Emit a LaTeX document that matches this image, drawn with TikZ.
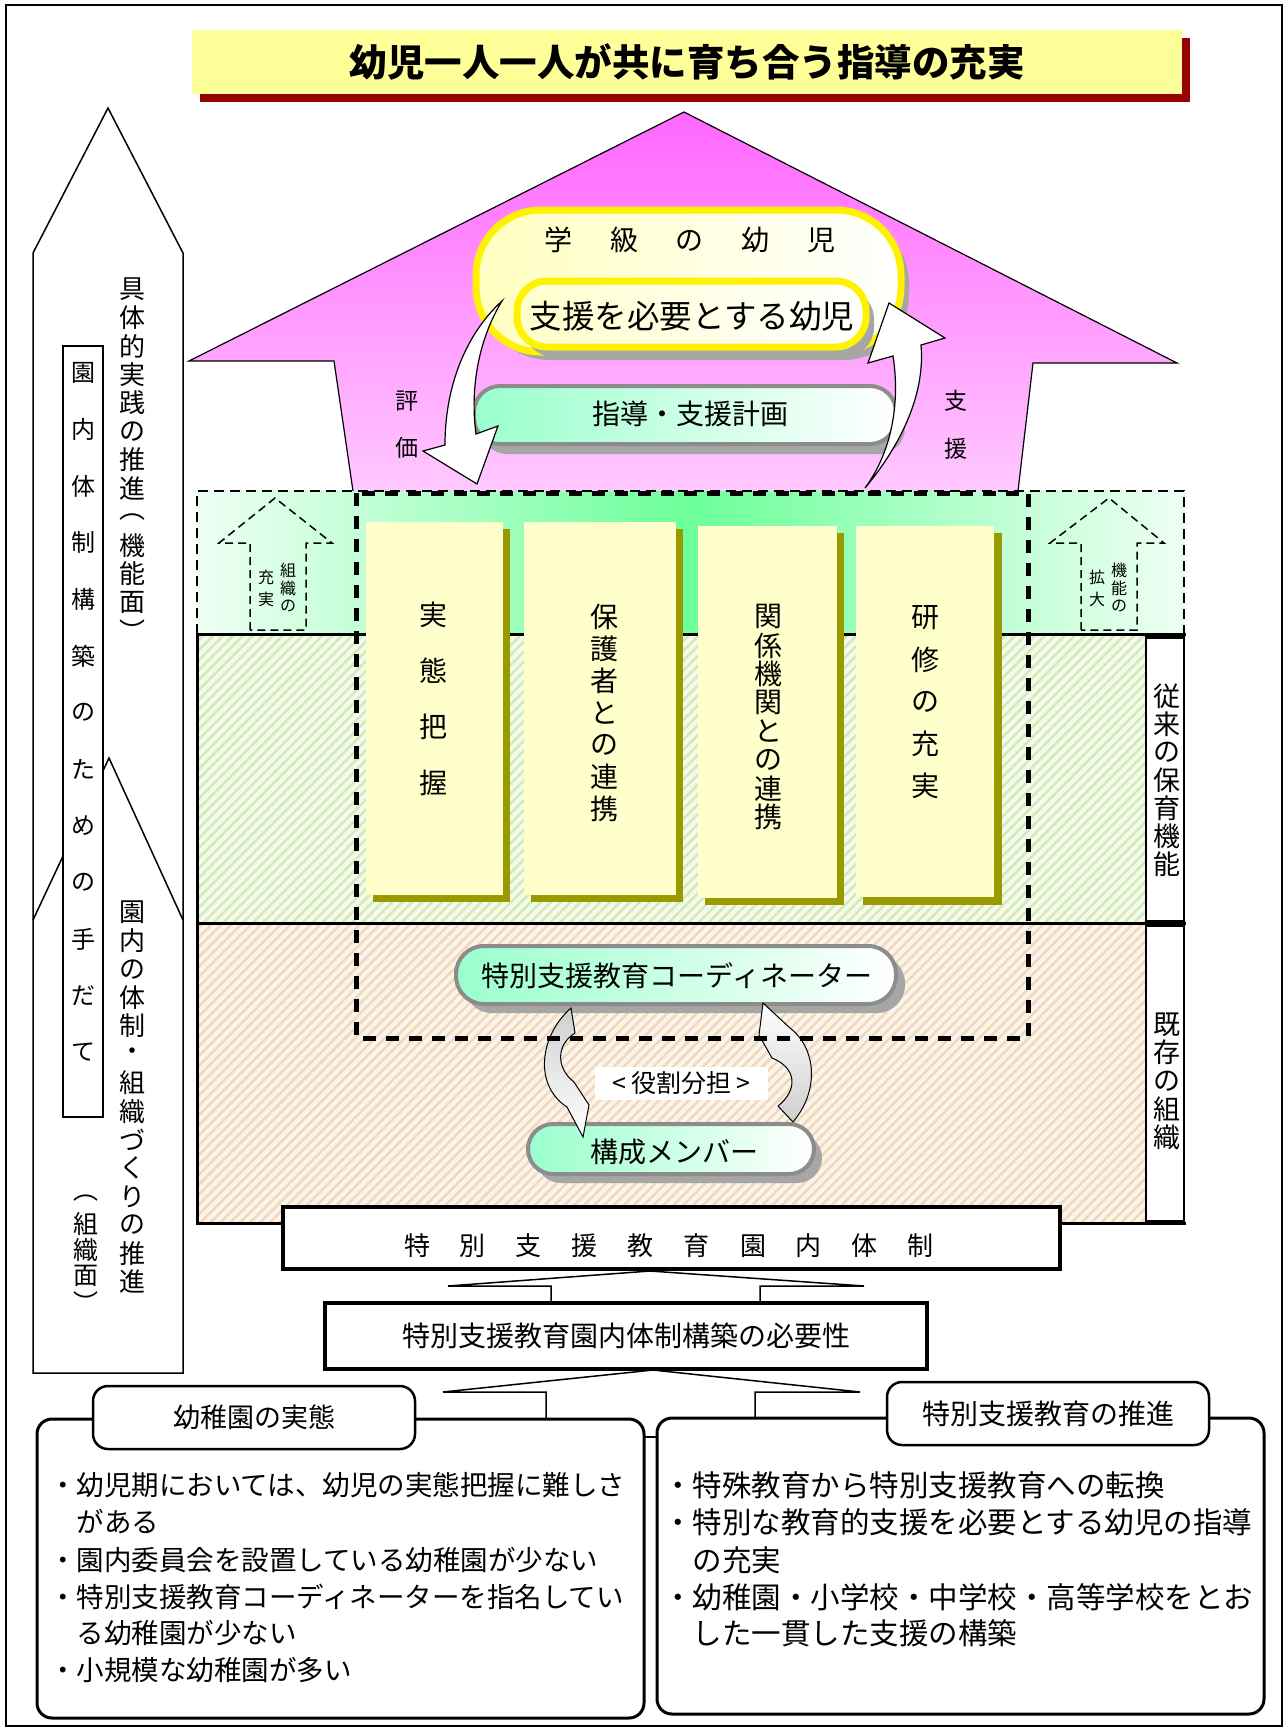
\documentclass[tikz,border=0pt]{standalone}
\usepackage{fontspec}
\setmainfont{Noto Sans CJK JP}
\usetikzlibrary{patterns.meta}
\definecolor{titley}{HTML}{FFFF99}
\definecolor{titles}{HTML}{990000}
\definecolor{pinkA}{HTML}{FF66FF}
\definecolor{pinkB}{HTML}{FFC8FF}
\definecolor{pillarY}{HTML}{FFFFCC}
\definecolor{olivesh}{HTML}{999900}
\definecolor{mint}{HTML}{99FFCC}
\definecolor{greenA}{HTML}{6CFF9A}
\definecolor{greenB}{HTML}{EEFFF4}
\definecolor{hatchG}{HTML}{D3EAB5}
\definecolor{hatchGbg}{HTML}{F4FAEE}
\definecolor{hatchB}{HTML}{EFD9BC}
\definecolor{hatchBbg}{HTML}{FCF4EA}
\definecolor{shgray}{HTML}{A6A6A6}
\definecolor{pillborder}{HTML}{8C8C8C}
\definecolor{lyel}{HTML}{FFFFC0}
\definecolor{arrgray}{HTML}{CFCFCF}
\makeatletter
\newcommand\vtext[2]{\vbox{\offinterlineskip\@tfor\vt@c:=#2\do{\hbox to 1em{\hss\vbox to #1{\vss\hbox{\vt@c}\vss}\hss}}}}
\makeatother
\tikzset{
  txt/.style={inner sep=0pt, font=\fontsize{#1}{#1}\selectfont},
  thinln/.style={line width=1.5pt},
  pillshadow/.style={fill=shgray},
  greenpill/.style={draw=pillborder, line width=4pt, left color=mint, right color=white},
  pillar/.style={fill=pillarY},
  pillarsh/.style={fill=olivesh},
  blockarrow/.style={draw=black, line width=1.2pt, fill=white},
  smalldash/.style={line width=1.5pt, dash pattern=on 8pt off 5pt},
  bigdash/.style={line width=5pt, dash pattern=on 13pt off 10pt},
  thickbox/.style={draw, line width=4pt, fill=white, inner sep=0pt},
  roundbox/.style={draw, line width=2.5pt, fill=white, rounded corners=15pt},
  labelbox/.style={draw, line width=2.5pt, fill=white, inner sep=0pt},
}
\begin{document}
\begin{tikzpicture}[x=1pt,y=-1pt]
\useasboundingbox (0,0) rectangle (1287,1730);
\fill[white] (0,0) rectangle (1287,1730);
\draw[line width=2pt] (6,5) rectangle (1282,1726);

% ---------- left column ----------
\draw[thinln, fill=white] (108,108) -- (183,253) -- (183,1373) -- (33,1373) -- (33,253) -- cycle;
\draw[thinln] (33,920) -- (109,758) -- (183,920);
\node[labelbox, minimum width=40pt, minimum height=771pt] (tebox) at (83,731.5) {};
\node[txt=24] (tedate) at (83,712.5) {\vtext{56.6pt}{園内体制構築のための手だて}};
\node[txt=26] (kinou) at (132,460) {\vtext{28.5pt}{具体的実践の推進︵機能面︶}};
\node[txt=26] (soshiki) at (132,1097) {\vtext{28.4pt}{園内の体制・組織づくりの推進}};
\node[txt=25] (soshikimen) at (86,1250) {\vtext{26pt}{︵組織面︶}};

% ---------- title ----------
\fill[titles] (200,38) rectangle (1190,102);
\node[fill=titley, minimum width=990pt, minimum height=64pt, inner sep=0pt,
      font=\bfseries\fontsize{37.5}{37.5}\selectfont] (title) at (687,62) {幼児一人一人が共に育ち合う指導の充実};

% ---------- house ----------
\shade[top color=pinkA, bottom color=pinkB] (684,112) -- (1177,363) -- (1033,363) -- (1018,491) -- (353,491) -- (334,361) -- (189,361) -- cycle;
\draw[line width=1.2pt] (353,491) -- (334,361) -- (189,361) -- (684,112) -- (1177,363) -- (1033,363) -- (1018,491);

% outer pill
\fill[shgray, rounded corners=65pt] (484,218) rectangle (909,360);
\shadedraw[draw=yellow, line width=7pt, left color=lyel, right color=white, rounded corners=65pt] (476,210) rectangle (901,352);
\node[txt=28] (gakkyu) at (690,240) {学\hspace{38pt}級\hspace{38pt}の\hspace{38pt}幼\hspace{38pt}児};
% inner pill
\fill[shgray, rounded corners=30pt] (524,289) rectangle (874,357);
\shadedraw[draw=yellow, line width=7pt, left color=pillarY, right color=white, rounded corners=30pt] (517,281) rectangle (866,347);
\node[txt=32.5] (shien) at (692,316) {支援を必要とする幼児};

% plan pill
\fill[shgray, rounded corners=26pt] (481,395) rectangle (905,454);
\shadedraw[greenpill, rounded corners=26pt] (474,386) rectangle (896,444);
\node[txt=28] (keikaku) at (690,414) {指導・支援計画};

% curved arrows
\draw[blockarrow] (502,301) .. controls (470,330) and (445,380) .. (445,445) -- (423,451) -- (477,484) -- (498,426) -- (476,434) .. controls (470,390) and (478,340) .. (502,301) -- cycle;
\draw[blockarrow] (865,488) .. controls (905,440) and (925,390) .. (921,345) -- (945,338) -- (889,303) -- (868,363) -- (893,356) .. controls (900,400) and (893,450) .. (865,488) -- cycle;
\node[txt=23] (hyo) at (407,401) {評};
\node[txt=23] (ka) at (407,448) {価};
\node[txt=23] (shi) at (956,401) {支};
\node[txt=23] (en) at (956,449) {援};

% ---------- green band ----------
\shade[left color=greenB, right color=greenB, middle color=greenA] (197,491) rectangle (1184,634);
\draw[line width=2pt, dash pattern=on 10pt off 6pt] (197,634) -- (197,491) -- (1184,491) -- (1184,634);

% hatched areas
\fill[hatchGbg] (197,634) rectangle (1146,923);
\fill[pattern={Lines[angle=45,distance=7pt,line width=2.5pt]}, pattern color=hatchG] (197,634) rectangle (1146,923);
\fill[hatchBbg] (197,923) rectangle (1146,1223);
\fill[pattern={Lines[angle=45,distance=7pt,line width=2.5pt]}, pattern color=hatchB] (197,923) rectangle (1146,1223);
\draw[line width=3pt] (197,634) -- (1186,634);
\draw[line width=3pt] (197,923) -- (1186,923);
\draw[line width=3pt] (197,634) -- (197,1223) -- (1186,1223);
\node[labelbox, minimum width=38pt, minimum height=284pt] (jurai) at (1165,779.5) {};
\node[txt=27] (juraitxt) at (1167,780) {\vtext{28pt}{従来の保育機能}};
\node[labelbox, minimum width=38pt, minimum height=295pt] (kizon) at (1165,1073.5) {};
\node[txt=27] (kizontxt) at (1167,1081) {\vtext{28.3pt}{既存の組織}};

% small dashed arrows
\draw[smalldash] (250,630) -- (250,543) -- (219,543) -- (275,498) -- (332,543) -- (306,543) -- (306,630) -- cycle;
\node[txt=16] (sosh) at (288,588) {\vtext{18pt}{組織の}};
\node[txt=16] (juj) at (266,588) {\vtext{22pt}{充実}};
\draw[smalldash] (1081,630) -- (1081,543) -- (1050,543) -- (1109,498) -- (1164,543) -- (1137,543) -- (1137,630) -- cycle;
\node[txt=16] (kino) at (1119,588) {\vtext{18pt}{機能の}};
\node[txt=16] (kakd) at (1097,588) {\vtext{22pt}{拡大}};

% pillars
\fill[pillarsh] (373,529) rectangle (510,902);
\fill[pillar] (366,522) rectangle (503,895);
\node[txt=28] (p1) at (433,699) {\vtext{56pt}{実態把握}};
\fill[pillarsh] (531,529) rectangle (683,902);
\fill[pillar] (524,522) rectangle (676,895);
\node[txt=28] (p2) at (604,713) {\vtext{32pt}{保護者との連携}};
\fill[pillarsh] (705,533) rectangle (844,905);
\fill[pillar] (698,526) rectangle (837,898);
\node[txt=28] (p3) at (768,717) {\vtext{28.6pt}{関係機関との連携}};
\fill[pillarsh] (863,533) rectangle (1002,905);
\fill[pillar] (856,526) rectangle (994,897);
\node[txt=28] (p4) at (925,702) {\vtext{42pt}{研修の充実}};

% coordinator and members
\fill[shgray, rounded corners=28pt] (464,955) rectangle (905,1013);
\shadedraw[greenpill, rounded corners=28pt] (456,946) rectangle (896,1004);
\node[txt=28] (coord) at (677,976) {特別支援教育コーディネーター};
\fill[shgray, rounded corners=25pt] (536,1133) rectangle (822,1183);
\shadedraw[greenpill, rounded corners=25pt] (528,1124) rectangle (814,1174);
\node[txt=28] (member) at (674,1152) {構成メンバー};

\shadedraw[top color=arrgray, bottom color=white, line width=1pt] (571,1008) .. controls (540,1035) and (533,1085) .. (567,1107) -- (583,1137) -- (589,1105) -- (574,1082) .. controls (556,1068) and (556,1045) .. (575,1033) -- cycle;
\shadedraw[top color=white, bottom color=arrgray, line width=1pt] (793,1122) .. controls (820,1090) and (816,1048) .. (790,1028) -- (763,1003) -- (759,1035) -- (772,1058) .. controls (797,1068) and (798,1090) .. (778,1106) -- cycle;
\node[fill=white, minimum width=173pt, minimum height=33pt, inner sep=0pt, font=\fontsize{25}{25}\selectfont] (yakuwari) at (681,1083) {<\hspace{5pt}役割分担\hspace{5pt}>};

% big dashed rectangle
\draw[bigdash] (356,493) rectangle (1028,1038);

% ---------- bottom ----------
\node[thickbox, minimum width=777pt, minimum height=62pt] (taisei) at (671.5,1238) {};
\node[txt=26] (taiseitxt) at (669,1246) {特\hspace{30pt}別\hspace{30pt}支\hspace{30pt}援\hspace{30pt}教\hspace{30pt}育\hspace{30pt}園\hspace{30pt}内\hspace{30pt}体\hspace{30pt}制};
\draw[thinln] (551,1303) -- (551,1286) -- (448,1286) -- (650,1271) -- (864,1286) -- (760,1286) -- (760,1303);
\node[thickbox, minimum width=602pt, minimum height=66pt, font=\fontsize{28}{28}\selectfont] (hitsuyo) at (626,1336) {特別支援教育園内体制構築の必要性};
\draw[thinln] (546,1419) -- (546,1392) -- (443,1392) -- (653,1370) -- (860,1392) -- (755,1392) -- (755,1418);
\draw[thinln] (644,1437) -- (657,1437);

\draw[roundbox, line width=3pt] (37,1419) rectangle (644,1718);
\node[roundbox, minimum width=322pt, minimum height=63pt, inner sep=0pt, font=\fontsize{27}{27}\selectfont] (jittai) at (254,1417.5) {幼稚園の実態};
\draw[roundbox, line width=3pt] (657,1418) rectangle (1264,1714);
\node[roundbox, minimum width=322pt, minimum height=63pt, inner sep=0pt, font=\fontsize{28}{28}\selectfont] (suishin) at (1048,1413.5) {特別支援教育の推進};

\begin{scope}[every node/.style={txt=27.5, anchor=west}]
\node (l1) at (49,1485) {・幼児期においては、幼児の実態把握に難しさ};
\node (l2) at (49,1522) {　がある};
\node (l3) at (49,1560) {・園内委員会を設置している幼稚園が少ない};
\node (l4) at (49,1597) {・特別支援教育コーディネーターを指名してい};
\node (l5) at (49,1633) {　る幼稚園が少ない};
\node (l6) at (49,1670) {・小規模な幼稚園が多い};
\end{scope}
\begin{scope}[every node/.style={txt=29.5, anchor=west}]
\node (r1) at (663,1485) {・特殊教育から特別支援教育への転換};
\node (r2) at (663,1522) {・特別な教育的支援を必要とする幼児の指導};
\node (r3) at (663,1560) {　の充実};
\node (r4) at (663,1597) {・幼稚園・小学校・中学校・高等学校をとお};
\node (r5) at (663,1633) {　した一貫した支援の構築};
\end{scope}
\end{tikzpicture}
\end{document}
